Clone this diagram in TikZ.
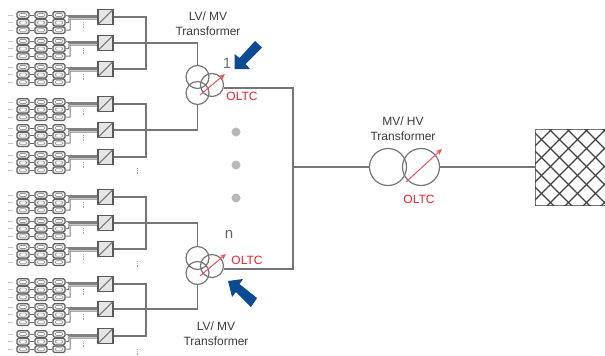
\documentclass[tikz,border=0pt]{standalone}
\usepackage{fontspec}
\setmainfont{Liberation Sans}
\usetikzlibrary{arrows.meta}
\definecolor{wire}{HTML}{767676}
\definecolor{txt}{HTML}{3C3C3C}
\definecolor{oltc}{HTML}{F0202C}
\definecolor{bluearrow}{HTML}{0B4B94}
\tikzset{
  wireline/.style={draw=wire,line width=1.3pt},
  xfmr/.style={circle,draw=wire,line width=1.2pt,inner sep=0pt,minimum size=#1},
  tap/.style={draw=oltc!80,line width=1pt,-{Stealth[length=6pt,width=5pt]}},
  lbl/.style={text=txt,font=\fontsize{12}{15}\selectfont,align=center,inner sep=0pt},
  redlbl/.style={text=oltc,font=\fontsize{12}{14}\selectfont,inner sep=0pt},
  pvmod/.style={draw=black!62,line width=1.3pt,rounded corners=1.5pt,fill=black!6,minimum width=12pt,minimum height=6.6pt,inner sep=0pt},
  pvcell/.style={draw=black!40,line width=.6pt,fill=white,rounded corners=1pt},
  pvlink/.style={draw=black!60,line width=1pt},
  inv/.style={draw=black!65,line width=1.2pt,fill=black!10,minimum width=15pt,minimum height=15pt,inner sep=0pt},
  dcwire/.style={draw=black!50,line width=1pt},
  tick/.style={draw=black!35,line width=1pt,dash pattern=on 1pt off .8pt},
  strlabel/.style={draw=black!22,line width=1pt},
  dotnode/.style={circle,fill=black!28,minimum size=9pt,inner sep=0pt},
}
% #1 name, #2 inverter centre y, #3 first row y
\newcommand{\pvgroup}[3]{%
  \foreach \r in {0,1,2}{%
    \pgfmathsetmacro{\yy}{#3+\r*7.6}
    \foreach \c/\x in {a/23,b/41,c/59}{%
      \node[pvmod] (#1m\c\r) at (\x,\yy) {};
      \draw[pvcell] (\x-3.5,\yy-1.5) rectangle (\x+3.5,\yy+1.5);
    }
    \draw[pvlink] (#1ma\r) -- (#1mb\r);
    \draw[pvlink] (#1mb\r) -- (#1mc\r);
    \draw[strlabel] (8,\yy) -- (13,\yy);
  }
  \node[inv] (#1inv) at (105.5,#2) {};
  \draw[draw=black!60,line width=1pt] (#1inv.south west) -- (#1inv.north east);
  \draw[dcwire] (#1mc0.east) -- (#1inv.west |- 0,#2-2);
  \draw[dcwire] (#1mc0.east) ++(2,1.5) -- (#1inv.west |- 0,#2-.7);
  \draw[dcwire] (#1mc1.east) -- ++(3,0) -- (69,#2+.7) -- (#1inv.west |- 0,#2+.7);
  \draw[dcwire] (#1mc2.east) -- (70,#3+15.2) -- (70,#2+2) -- (#1inv.west |- 0,#2+2);
  \coordinate (#1tick) at (83.5,#2+5);
  \draw[tick] (#1tick) -- ++(0,6);
}
\begin{document}
\begin{tikzpicture}[x=1pt,y=-1pt]
\useasboundingbox (0,0) rectangle (605,356);
\pvgroup{A}{17}{15}
\pvgroup{B}{43}{41}
\pvgroup{C}{69}{67}
\pvgroup{D}{104}{102}
\pvgroup{E}{130}{128}
\pvgroup{F}{157}{155}
\pvgroup{G}{197}{195}
\pvgroup{H}{223}{221}
\pvgroup{I}{249}{247}
\pvgroup{J}{284}{282}
\pvgroup{K}{309}{307}
\pvgroup{L}{336}{334}
% transformers
\node[xfmr=23pt] (t1a) at (197.5,77) {};
\node[xfmr=23pt] (t1b) at (197.5,93) {};
\node[xfmr=23pt] (t1c) at (212,85) {};
\node[xfmr=23pt] (tna) at (197.5,258) {};
\node[xfmr=23pt] (tnb) at (197.5,273) {};
\node[xfmr=23pt] (tnc) at (212,266) {};
\node[xfmr=37pt] (hvl) at (388,167) {};
\node[xfmr=37pt] (hvr) at (421,167) {};
% grid
\node[draw=wire,line width=1.2pt,minimum width=72pt,minimum height=76pt,inner sep=0pt,anchor=north west] (grid) at (535,129) {};
\begin{scope}
\clip (535,129) rectangle (605,205);
\foreach \k in {0,...,10}{
  \draw[black!75,line width=1.1pt] (525+\k*18,120) ++(-90,90) -- ++(100,-100);
  \draw[black!75,line width=1.1pt] (450+\k*18,120) -- ++(100,100);
}
\end{scope}
% buses
\coordinate (b1) at (146,43);
\coordinate (b2) at (146,130);
\coordinate (b3) at (146,223);
\coordinate (b4) at (146,309);
\coordinate (mv) at (293,88);
\coordinate (mvn) at (293,269);
\coordinate (mvm) at (293,167);
\draw[wireline] (Ainv.east) -- (146,17) -- (146,69) -- (Cinv.east);
\draw[wireline] (Binv.east) -- (b1) -| (t1a.north);
\draw[wireline] (Dinv.east) -- (146,104) -- (146,157) -- (Finv.east);
\draw[wireline] (Einv.east) -- (b2) -| (t1b.south);
\draw[wireline] (Ginv.east) -- (146,197) -- (146,249) -- (Iinv.east);
\draw[wireline] (Hinv.east) -- (b3) -| (tna.north);
\draw[wireline] (Jinv.east) -- (146,284) -- (146,336) -- (Linv.east);
\draw[wireline] (Kinv.east) -- (b4) -| (tnb.south);
\draw[wireline] (t1c.east |- mv) -- (mv) -- (mvn) -- (tnc.east |- mvn);
\draw[wireline] (mvm) -- (hvl.west);
\draw[wireline] (hvr.east) -- (grid.west |- hvr.east);
% tap arrows
\coordinate (s1) at (200,95); \coordinate (e1) at (225,74);
\coordinate (s2) at (200,276); \coordinate (e2) at (226,254);
\coordinate (s3) at (406,182); \coordinate (e3) at (442,149);
\draw[tap] (s1) -- (e1);
\draw[tap] (s2) -- (e2);
\draw[tap] (s3) -- (e3);
% dots
\node[dotnode] (d1) at (236,132) {};
\node[dotnode] (d2) at (236,165) {};
\node[dotnode] (d3) at (236,198) {};
\coordinate (q1) at (137,168); \draw[tick] (q1) -- ++(0,7);
\coordinate (q2) at (137,261); \draw[tick] (q2) -- ++(0,7);
\coordinate (q3) at (137,349); \draw[tick] (q3) -- ++(0,7);
% blue arrows
\fill[bluearrow] (234.5,69) -- (250,69) -- (245.5,64) -- (262,47.5) -- (255,41) -- (239.5,58) -- (234.5,54) -- cycle;
\fill[bluearrow] (228,281) -- (243,279) -- (239.5,284) -- (257,298) -- (251,307) -- (236,292) -- (232,297) -- cycle;
% labels
\node[lbl] (l1) at (208,23.5) {LV/ MV\\Transformer};
\node[lbl] (l2) at (216,333.5) {LV/ MV\\Transformer};
\node[lbl] (l3) at (403,129) {MV/ HV\\Transformer};
\node[lbl,text=black!55,font=\fontsize{15}{15}\selectfont] (n1) at (227,63) {1};
\node[lbl,text=black!60,font=\fontsize{15}{15}\selectfont] (nn) at (229,234) {n};
\node[redlbl] (o1) at (242,96) {OLTC};
\node[redlbl] (o2) at (247,260) {OLTC};
\node[redlbl] (o3) at (419,199) {OLTC};
\end{tikzpicture}
\end{document}
